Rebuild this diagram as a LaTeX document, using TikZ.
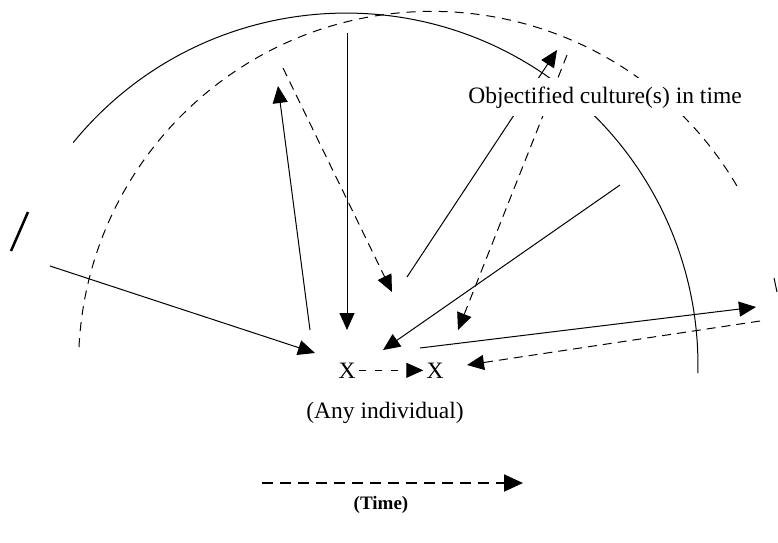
\documentclass[tikz,border=0pt]{standalone}
\usepackage{fontspec}
\setmainfont{Liberation Serif}
\usetikzlibrary{arrows.meta}
\begin{document}
\begin{tikzpicture}[x=1pt,y=-1pt,
  thinline/.style={line width=1pt,line cap=butt},
  arr/.style={thinline,-{Triangle[length=17pt,width=15pt]}},
  darr/.style={arr,dash pattern=on 9pt off 6pt},
  arcdash/.style={thinline,dash pattern=on 9pt off 7pt},
  lbl/.style={font=\fontsize{23.5}{28}\selectfont,inner sep=3pt,anchor=base},
  mask/.style={lbl,fill=white,inner xsep=3pt,inner ysep=8pt}
]
\useasboundingbox (0,0) rectangle (778,542);
% arcs
\draw[thinline] (73.2,142.6) arc[start angle=-140.8,end angle=1.3,radius=352];
\draw[arcdash] (79,347) arc[start angle=-177.1,end angle=-30,radius=353.5];
% stray marks
\draw[line width=2.5pt] (11,251) -- (28,212);
\draw[line width=1pt] (774,278) -- (777,292);
% endpoints
\coordinate (L0) at (50,266);   \coordinate (L1) at (315,353);
\coordinate (U0) at (310,330);  \coordinate (U1) at (278,86);
\coordinate (V0) at (347,33);   \coordinate (V1) at (347,330);
\coordinate (Da0) at (283,68);  \coordinate (Da1) at (392,292);
\coordinate (Sa0) at (407,277); \coordinate (Sa1) at (557,50);
\coordinate (Db0) at (567,55);  \coordinate (Db1) at (458,330);
\coordinate (Sb0) at (620,185); \coordinate (Sb1) at (383,350);
\coordinate (R0) at (420,348);  \coordinate (R1) at (756,307);
\coordinate (Rd0) at (760,321); \coordinate (Rd1) at (467,365);
\coordinate (T0) at (262,483);  \coordinate (T1) at (523,483);
% connectors
\draw[arr] (L0) -- (L1);
\draw[arr] (U0) -- (U1);
\draw[arr] (V0) -- (V1);
\draw[darr] (Da0) -- (Da1);
\draw[arr] (Sa0) -- (Sa1);
\draw[darr] (Db0) -- (Db1);
\draw[arr] (Sb0) -- (Sb1);
\draw[arr] (R0) -- (R1);
\draw[darr] (Rd0) -- (Rd1);
% label masking
\node[mask] (culture) at (605,103) {Objectified culture(s) in time};
% individuals
\node[lbl] (x1) at (347,378) {X};
\node[lbl] (x2) at (435,378) {X};
\draw[thinline,dash pattern=on 7pt off 9pt,-{Triangle[length=17pt,width=15pt]}] (x1.east) -- (x2.west);
\node[lbl] (indiv) at (385,418) {(Any individual)};
% time
\draw[line width=1.8pt,dash pattern=on 11pt off 7pt,-{Triangle[length=19pt,width=17pt]}] (T0) -- (T1);
\node[lbl,font=\fontsize{19}{22}\selectfont\bfseries] (time) at (381,509) {(Time)};
\end{tikzpicture}
\end{document}
